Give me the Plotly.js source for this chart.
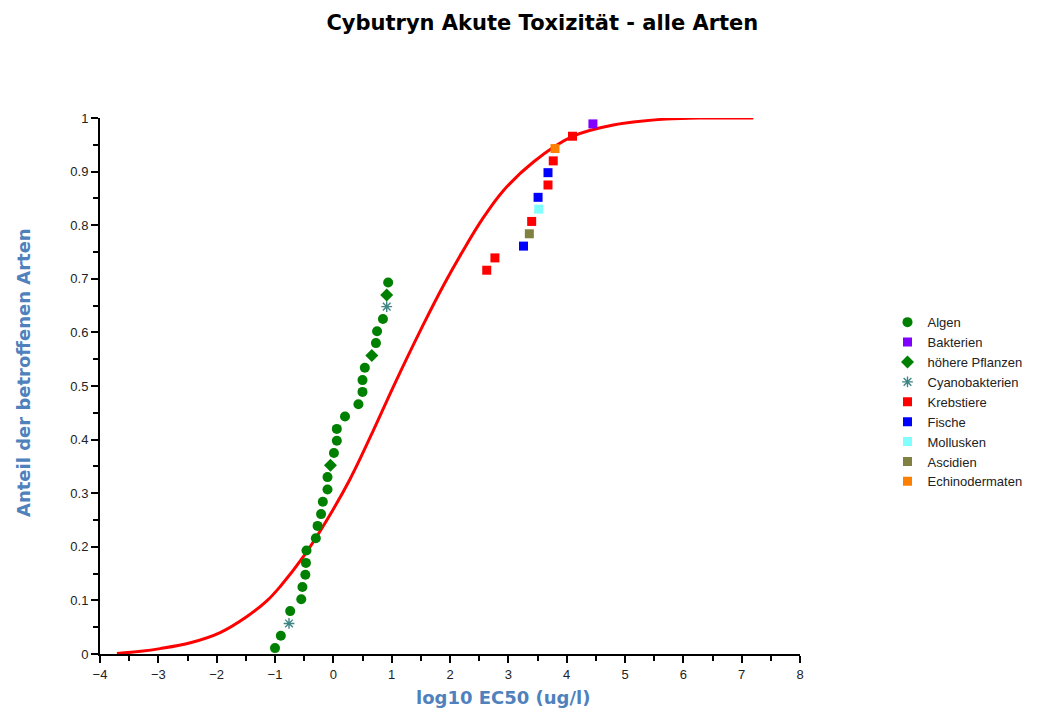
<!DOCTYPE html>
<html>
<head>
<meta charset="utf-8">
<script src="https://cdn.plot.ly/plotly-3.0.1.min.js"></script>
<style>html,body{margin:0;padding:0;background:#fff;}#chart{width:1039px;height:713px;}</style>
</head>
<body>
<div id="chart"></div>
<script>
// Species sensitivity data (log10 EC50 in ug/l, cumulative fraction)
const algenX = [-1.00, -0.90, -0.74, -0.55, -0.53, -0.48, -0.47, -0.46, -0.30, -0.27, -0.21, -0.18, -0.10, -0.10, 0.01, 0.06, 0.06, 0.20, 0.43, 0.50, 0.50, 0.54, 0.73, 0.75, 0.85, 0.94];
const algenY = [0.011, 0.034, 0.080, 0.102, 0.125, 0.148, 0.170, 0.193, 0.216, 0.239, 0.261, 0.284, 0.307, 0.330, 0.375, 0.398, 0.420, 0.443, 0.466, 0.489, 0.511, 0.534, 0.580, 0.602, 0.625, 0.693];
const bakterienX = [4.45];
const bakterienY = [0.989];
const pflanzenX = [-0.05, 0.66, 0.915];
const pflanzenY = [0.352, 0.557, 0.670];
const cyanoX = [-0.76, 0.915];
const cyanoY = [0.057, 0.648];
const krebsX = [2.63, 2.77, 3.40, 3.68, 3.77, 4.10];
const krebsY = [0.716, 0.739, 0.807, 0.875, 0.920, 0.966];
const fischeX = [3.26, 3.51, 3.68];
const fischeY = [0.761, 0.852, 0.898];
const molluskenX = [3.52];
const molluskenY = [0.830];
const ascidienX = [3.36];
const ascidienY = [0.784];
const echinoX = [3.80];
const echinoY = [0.943];
// fitted distribution curve
const curveX = [-3.71, -3.30, -2.97, -2.45, -1.94, -1.48, -1.14, -0.91, -0.51, -0.11, 0.29, 0.69, 1.03, 1.54, 1.89, 2.20, 2.54, 2.91, 3.43, 4.11, 4.80, 5.71, 6.40, 7.20];
const curveY = [0.001, 0.005, 0.010, 0.021, 0.040, 0.070, 0.099, 0.126, 0.182, 0.250, 0.327, 0.418, 0.499, 0.614, 0.688, 0.748, 0.809, 0.864, 0.918, 0.966, 0.987, 0.998, 1.000, 1.000];

const xTickVals = [-4, -3, -2, -1, 0, 1, 2, 3, 4, 5, 6, 7, 8];
const yTickVals = [0, 0.1, 0.2, 0.3, 0.4, 0.5, 0.6, 0.7, 0.8, 0.9, 1];
const yTickText = ['0', '0.1', '0.2', '0.3', '0.4', '0.5', '0.6', '0.7', '0.8', '0.9', '1'];

const sq = (name, x, y, color) => ({
  type: 'scatter', mode: 'markers', name: name, x: x, y: y, cliponaxis: false,
  marker: {symbol: 'square', size: 9, color: color, line: {width: 0}}
});

const data = [
  {type: 'scatter', mode: 'lines', x: curveX, y: curveY, showlegend: false, hoverinfo: 'skip',
   line: {color: '#ff0000', width: 3, shape: 'spline', smoothing: 1}},
  {type: 'scatter', mode: 'markers', name: 'Algen', x: algenX, y: algenY, cliponaxis: false,
   marker: {symbol: 'circle', size: 10, color: '#008000'}},
  sq('Bakterien', bakterienX, bakterienY, '#8000ff'),
  {type: 'scatter', mode: 'markers', name: 'höhere Pflanzen', x: pflanzenX, y: pflanzenY, cliponaxis: false,
   marker: {symbol: 'diamond', size: 10, color: '#008000'}},
  {type: 'scatter', mode: 'markers', name: 'Cyanobakterien', x: cyanoX, y: cyanoY, cliponaxis: false,
   marker: {symbol: 'asterisk-open', size: 9, color: '#3f8585', line: {width: 1.4, color: '#3f8585'}}},
  sq('Krebstiere', krebsX, krebsY, '#ff0000'),
  sq('Fische', fischeX, fischeY, '#0000ff'),
  sq('Mollusken', molluskenX, molluskenY, '#80ffff'),
  sq('Ascidien', ascidienX, ascidienY, '#808040'),
  sq('Echinodermaten', echinoX, echinoY, '#ff8000')
];

const axisFont = {family: 'Liberation Sans, Arial, sans-serif', size: 13, color: '#222222'};
const titleColor = '#4f81bd';

const layout = {
  width: 1039, height: 713,
  margin: {l: 100, r: 239, t: 118, b: 59},
  paper_bgcolor: '#ffffff', plot_bgcolor: '#ffffff',
  title: {text: '<b>Cybutryn Akute Toxizität - alle Arten</b>', x: 0.522, xanchor: 'center', y: 0.968, yanchor: 'middle',
          font: {family: 'DejaVu Sans, sans-serif', size: 21, color: '#000000'}},
  xaxis: {range: [-4, 8], tickvals: xTickVals, ticks: 'outside', ticklen: 7, tickwidth: 2, tickcolor: '#000',
          showline: true, linecolor: '#000', linewidth: 2, showgrid: false, zeroline: false,
          tickfont: axisFont, fixedrange: true,
          minor: {dtick: 0.5, ticks: 'outside', ticklen: 5, tickwidth: 2, tickcolor: '#000', showgrid: false}},
  yaxis: {range: [0, 1], tickvals: yTickVals, ticktext: yTickText, ticks: 'outside', ticklen: 7, tickwidth: 2, tickcolor: '#000',
          showline: true, linecolor: '#000', linewidth: 2, showgrid: false, zeroline: false,
          tickfont: axisFont, fixedrange: true,
          minor: {dtick: 0.05, ticks: 'outside', ticklen: 5, tickwidth: 2, tickcolor: '#000', showgrid: false}},
  legend: {x: 1.125, y: 0.647, xanchor: 'left', yanchor: 'top', bgcolor: 'rgba(0,0,0,0)',
           font: {family: 'Liberation Sans, Arial, sans-serif', size: 13, color: '#222'}, tracegroupgap: 0},
  annotations: [
    {text: '<b>log10 EC50 (ug/l)</b>', xref: 'paper', yref: 'paper', x: (503 - 100) / 700, y: -(697 - 654) / 536,
     xanchor: 'center', yanchor: 'middle', showarrow: false,
     font: {family: 'DejaVu Sans, sans-serif', size: 18, color: titleColor}},
    {text: '<b>Anteil der betroffenen Arten</b>', xref: 'paper', yref: 'paper', x: -(100 - 23) / 700, y: (654 - 373) / 536,
     xanchor: 'center', yanchor: 'middle', showarrow: false, textangle: -90,
     font: {family: 'DejaVu Sans, sans-serif', size: 18, color: titleColor}}
  ]
};

Plotly.newPlot('chart', data, layout, {displayModeBar: false, staticPlot: true});
</script>
</body>
</html>
